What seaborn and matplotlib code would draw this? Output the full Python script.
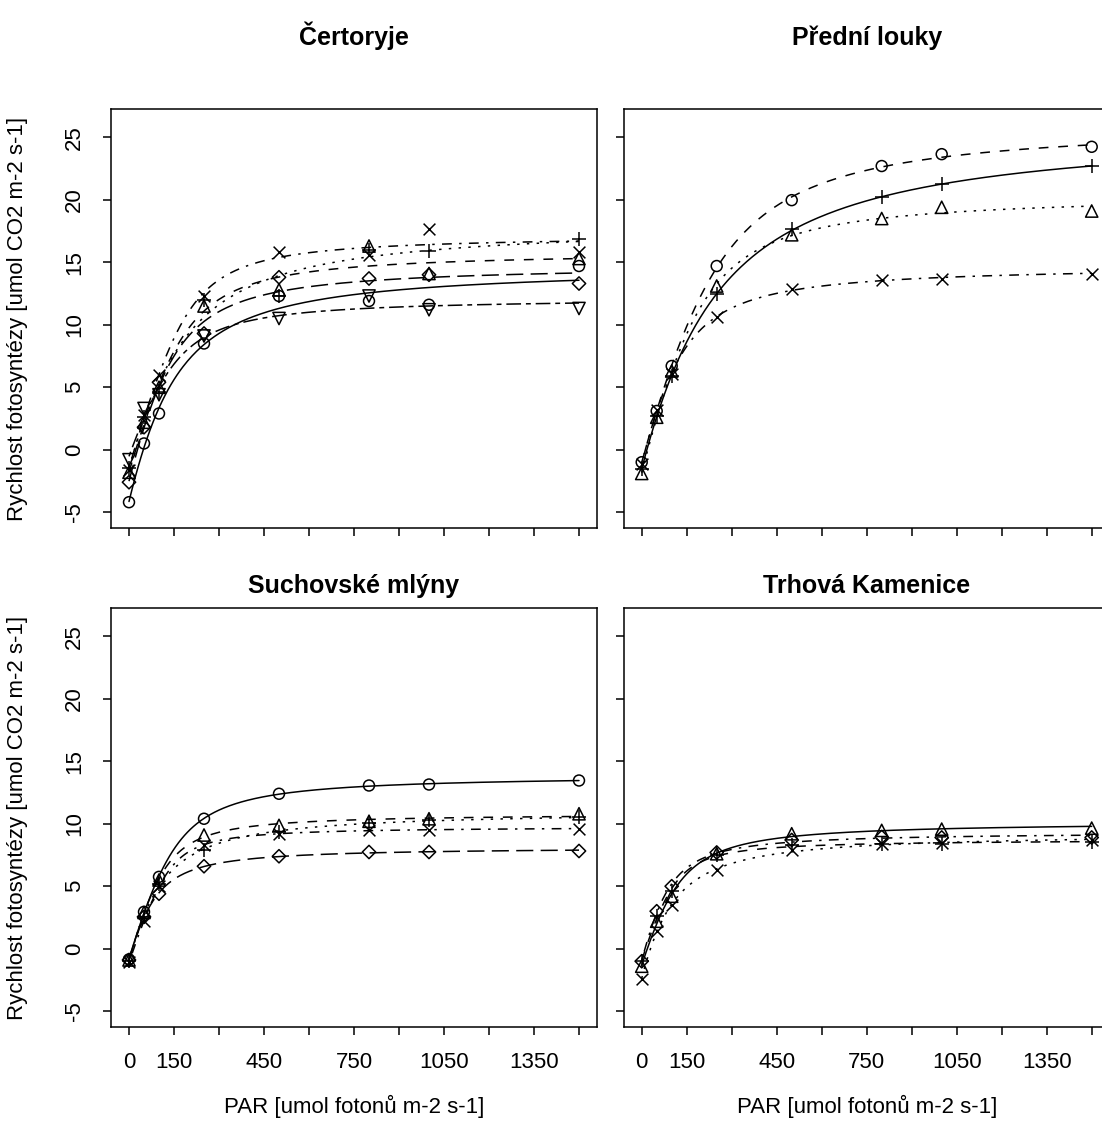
import numpy as np
import matplotlib
matplotlib.use("Agg")
import matplotlib.pyplot as plt
import seaborn as sns

# PAR hladiny mereni
par = [0, 50, 100, 250, 500, 800, 1000, 1500]

# Certoryje
cert_kruh = [-4.2, 0.5, 2.9, 8.5, 12.3, 11.9, 11.6, 14.7]
cert_troj = [-1.8, 2.2, 5.0, 11.5, 12.8, 16.3, 14.1, 15.3]
cert_plus = [-1.5, 2.6, 4.6, 12.0, 12.3, 16.0, 15.9, 16.9]
cert_krizek = [-1.6, 2.8, 6.0, 12.3, 15.8, 15.6, 17.7, 15.8]
cert_kosoctverec = [-2.6, 1.8, 5.4, 9.3, 13.8, 13.7, 14.0, 13.3]
cert_obr_troj = [-0.8, 3.3, 4.4, 9.1, 10.5, 12.3, 11.2, 11.3]

# Predni louky
pred_plus = [-1.55, 2.7, 5.9, 12.45, 17.65, 20.2, 21.25, 22.7]
pred_kruh = [-1.0, 3.1, 6.7, 14.7, 19.97, 22.7, 23.65, 24.24]
pred_troj = [-1.9, 2.6, 6.3, 13.1, 17.2, 18.5, 19.4, 19.1]
pred_krizek = [-1.15, 3.2, 6.05, 10.6, 12.9, 13.6, 13.7, 14.05]

# Suchovske mlyny
such_kruh = [-0.85, 2.95, 5.75, 10.4, 12.4, 13.06, 13.14, 13.46]
such_troj = [-0.9, 2.9, 5.5, 9.1, 9.87, 10.2, 10.4, 10.8]
such_plus = [-1.0, 2.5, 5.2, 7.9, 9.33, 10.05, 10.3, 10.5]
such_krizek = [-1.1, 2.2, 5.0, 8.3, 9.2, 9.5, 9.5, 9.6]
such_kosoctverec = [-0.9, 2.55, 4.4, 6.6, 7.4, 7.74, 7.74, 7.82]

# Trhova Kamenice
trh_troj = [-1.4, 2.2, 4.2, 7.6, 9.2, 9.47, 9.57, 9.65]
trh_plus = [-1.0, 2.6, 4.6, 7.5, 8.3, 8.4, 8.4, 8.5]
trh_krizek = [-2.4, 1.4, 3.5, 6.3, 7.9, 8.35, 8.45, 8.7]
trh_kosoctverec = [-1.0, 3.0, 5.0, 7.7, 8.7, 8.94, 8.9, 8.9]

nazvy = ["Čertoryje", "Přední louky", "Suchovské mlýny", "Trhová Kamenice"]
x_ticky = [0, 150, 300, 450, 600, 750, 900, 1050, 1200, 1350, 1500]
x_popisky = ["0", "150", "", "450", "", "750", "", "1050", "", "1350", ""]
y_ticky = [-5, 0, 5, 10, 15, 20, 25]

# typy car jako v R (lty), delky v bodech
u = 1.6
cary = {
    "solid": "-",
    "dashed": (0, (4 * u, 4 * u)),
    "dotted": (0, (1 * u, 3 * u)),
    "dotdash": (0, (1 * u, 3 * u, 4 * u, 3 * u)),
    "longdash": (0, (7 * u, 3 * u)),
    "twodash": (0, (2 * u, 2 * u, 6 * u, 2 * u)),
}
velikosti = {"o": 62, "^": 78, "v": 78, "+": 105, "x": 72, "D": 46}

panely = [
    [(cert_kruh, "o", "solid"), (cert_troj, "^", "dashed"), (cert_plus, "+", "dotted"),
     (cert_krizek, "x", "dotdash"), (cert_kosoctverec, "D", "longdash"),
     (cert_obr_troj, "v", "twodash")],
    [(pred_plus, "+", "solid"), (pred_kruh, "o", "dashed"), (pred_troj, "^", "dotted"),
     (pred_krizek, "x", "dotdash")],
    [(such_kruh, "o", "solid"), (such_troj, "^", "dashed"), (such_plus, "+", "dotted"),
     (such_krizek, "x", "dotdash"), (such_kosoctverec, "D", "longdash")],
    [(trh_troj, "^", "solid"), (trh_plus, "+", "dashed"), (trh_krizek, "x", "dotted"),
     (trh_kosoctverec, "D", "dotdash")],
]


def nrh(i, alpha, pmax, theta):
    # nerektangularni hyperbola (svetelna krivka fotosyntezy)
    a = alpha * i + pmax
    return (a - np.sqrt(np.maximum(a ** 2 - 4 * theta * alpha * i * pmax, 0))) / (2 * theta)


def fituj(x, y):
    # jednoduchy fit mrizkou (nejmensi ctverce), Rd se dopocita primo
    x = np.asarray(x, float)
    y = np.asarray(y, float)
    alphas = np.linspace(0.01, 0.3, 59)
    pmaxs = np.linspace(3, 50, 95)
    thetas = np.linspace(0.01, 0.99, 50)
    kroky = [alphas[1] - alphas[0], pmaxs[1] - pmaxs[0], thetas[1] - thetas[0]]
    for _ in range(4):
        A, P, T = np.meshgrid(alphas, pmaxs, thetas, indexing="ij")
        A, P, T = A.ravel()[:, None], P.ravel()[:, None], T.ravel()[:, None]
        f = nrh(x[None, :], A, P, T)
        rd = (f - y).mean(axis=1, keepdims=True)
        sse = ((f - rd - y) ** 2).sum(axis=1)
        k = np.argmin(sse)
        best = (A[k, 0], P[k, 0], T[k, 0], rd[k, 0])
        alphas = np.linspace(max(best[0] - kroky[0], 1e-4), best[0] + kroky[0], 15)
        pmaxs = np.linspace(max(best[1] - kroky[1], 0.5), best[1] + kroky[1], 15)
        thetas = np.clip(np.linspace(best[2] - kroky[2], best[2] + kroky[2], 15), 0.005, 0.999)
        kroky = [alphas[1] - alphas[0], pmaxs[1] - pmaxs[0], thetas[1] - thetas[0]]
    return best


sns.set_theme(style="white")
plt.rcParams["font.family"] = ["Liberation Sans", "DejaVu Sans"]

W, H = 1102, 1135
fig = plt.figure(figsize=(W / 100, H / 100), dpi=100, facecolor="white")

pozice = [(111, 109.3), (623.7, 109.3), (111, 608.3), (623.7, 608.3)]
sirka, vyska = 486, 418.4

krivka_x = np.linspace(0, 1500, 301)

for idx, (serie, (lx, ty)) in enumerate(zip(panely, pozice)):
    ax = fig.add_axes([lx / W, 1 - (ty + vyska) / H, sirka / W, vyska / H])
    ax.set_facecolor("white")
    for y, mark, lty in serie:
        alpha, pmax, theta, rd = fituj(par, y)
        krivka_y = nrh(krivka_x, alpha, pmax, theta) - rd
        sns.lineplot(x=krivka_x, y=krivka_y, color="black", linewidth=1.1,
                     linestyle=cary[lty], estimator=None, sort=False,
                     legend=False, ax=ax)
        if mark in ("+", "x"):
            sns.scatterplot(x=par, y=y, marker=mark, s=velikosti[mark], color="black",
                            linewidth=1.1, legend=False, ax=ax, zorder=3)
        else:
            sns.scatterplot(x=par, y=y, marker=mark, s=velikosti[mark], color="black",
                            facecolor="none", edgecolor="black", linewidth=1.1,
                            legend=False, ax=ax, zorder=3)

    ax.set_xlim(-60, 1560)
    ax.set_ylim(-6.24, 27.24)
    ax.set_xticks(x_ticky)
    ax.set_yticks(y_ticky)
    ax.set_xlabel("")
    ax.set_ylabel("")
    for sp in ax.spines.values():
        sp.set_color("black")
        sp.set_linewidth(1.1)
    ax.tick_params(axis="both", direction="out", length=5.5, width=1.1, color="black",
                   labelsize=16, labelcolor="black", bottom=True, left=True, pad=13)
    if idx >= 2:
        ax.set_xticklabels(x_popisky)
    else:
        ax.tick_params(labelbottom=False)
    if idx % 2 == 0:
        ax.set_yticklabels([str(v) for v in y_ticky], rotation=90, va="center")
    else:
        ax.tick_params(labelleft=False)

    stred_x = (lx + sirka / 2) / W
    titul_y = 45 if idx < 2 else 593
    fig.text(stred_x, 1 - titul_y / H, nazvy[idx], ha="center", va="baseline",
             fontsize=18, fontweight="bold", color="black")
    if idx >= 2:
        fig.text(stred_x, 1 - 1106 / H, "PAR [umol fotonů m-2 s-1]", ha="center",
                 va="center", fontsize=16, color="black")
    if idx % 2 == 0:
        fig.text(23 / W, 1 - (ty + vyska / 2) / H,
                 "Rychlost fotosyntézy [umol CO2 m-2 s-1]", rotation=90,
                 rotation_mode="anchor", ha="center", va="baseline",
                 fontsize=16, color="black")

fig.savefig("out.png", dpi=100, facecolor="white")
